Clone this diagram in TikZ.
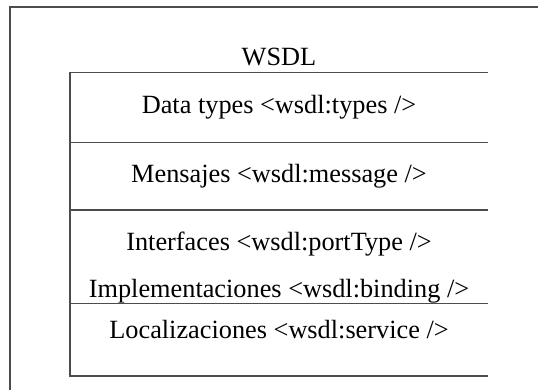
\documentclass[tikz,border=0pt]{standalone}
\usepackage{fontspec}
\setmainfont{Liberation Serif}
\begin{document}
\begin{tikzpicture}[x=1pt,y=-1pt,
  rule/.style={draw=black!70,line width=1.2pt},
  lbl/.style={anchor=base,inner sep=0pt,font=\fontsize{26.3}{30}\selectfont}]
\useasboundingbox (0,0) rectangle (538,390);
% outer frame, running past the right and bottom edges
\begin{scope}
\clip (0,0) rectangle (538,390);
\draw[rule] (10,7) rectangle (560,410);
\end{scope}
% title
\node[lbl] (title) at (279,66) {WSDL};
% stacked sections of the document
\draw[rule] (488,72.7) -- (70,72.7) -- (70,376) -- (488,376);
\draw[rule] (70,142.7) -- (488,142.7);
\draw[rule] (70,210) -- (488,210);
\draw[rule] (70,303.7) -- (488,303.7);
\node[lbl] (types) at (279,114) {Data types <wsdl:types />};
\node[lbl] (msg) at (279,182.7) {Mensajes <wsdl:message />};
\node[lbl] (port) at (279,250.7) {Interfaces <wsdl:portType />};
\node[lbl] (bind) at (279,297.3) {Implementaciones <wsdl:binding />};
\node[lbl] (svc) at (279,338) {Localizaciones <wsdl:service />};
\end{tikzpicture}
\end{document}
